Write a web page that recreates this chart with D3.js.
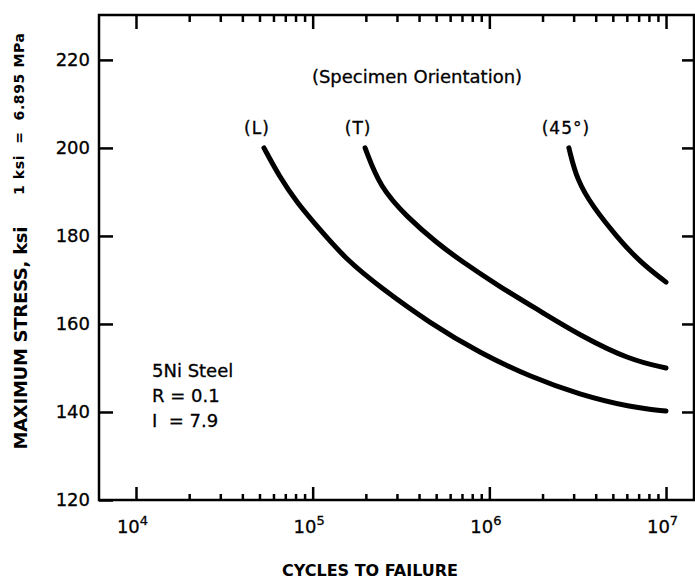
<!DOCTYPE html>
<html>
<head>
<meta charset="utf-8">
<script src="https://cdn.jsdelivr.net/npm/d3@7"></script>
<style>
  body { margin: 0; background: #fff; }
  svg { display: block; }
  .axis path, .axis line { stroke: #000; stroke-width: 2.5; }
  .axis text { font-family: "DejaVu Sans", sans-serif; font-size: 18px; fill: #000; stroke: #000; stroke-width: 0.3; }
  .lbl { font-family: "DejaVu Sans", sans-serif; fill: #000; }
  .thick { stroke: #000; stroke-width: 0.3; }
  .curve { fill: none; stroke: #000; stroke-width: 5; stroke-linecap: round; }
</style>
</head>
<body>
<div id="chart"></div>
<script>
// cycles to failure / max stress (ksi)
var cyclesL = [5.3e4, 6.5e4, 8.1e4, 1.1e5, 1.56e5, 2.4e5, 4.6e5, 8.85e5, 1.7e6, 3.26e6, 6.25e6, 1e7];
var stressL = [200, 193.4, 187.7, 181.4, 174.5, 168.4, 160.2, 153.4, 148.0, 143.9, 141.1, 140.2];

var cyclesT = [1.98e5, 2.4e5, 3.42e5, 5.05e5, 6.82e5, 1.15e6, 2.0e6, 3.26e6, 6.25e6, 1e7];
var stressT = [200, 191.1, 184.3, 178.4, 174.5, 168.4, 162.6, 157.4, 151.8, 150.0];

var cycles45 = [2.82e6, 3.13e6, 3.86e6, 5.27e6, 7.11e6, 1e7];
var stress45 = [200, 192.7, 186.6, 179.8, 174.1, 169.5];

var seriesNames = ["(L)", "(T)", "(45°)"];
var yTicks = [120, 140, 160, 180, 200, 220];
var xMajor = [1e4, 1e5, 1e6, 1e7];
var notes = ["5Ni Steel", "R = 0.1", "I  = 7.9"];

var width = 695, height = 585;
var margin = {left: 99, top: 15, right: 1, bottom: 85};

var svg = d3.select("#chart").append("svg")
    .attr("width", width)
    .attr("height", height);

var x = d3.scaleLog()
    .domain([6175, 1.44e7])
    .range([margin.left, width - margin.right]);
var y = d3.scaleLinear()
    .domain([120, 230.2])
    .range([height - margin.bottom, margin.top]);

// minor ticks 2..9 in each decade from 10^4 to 10^7
var xMinor = [];
for (var d = 1e4; d < 1e7; d *= 10) {
    for (var k = 2; k <= 9; k++) xMinor.push(d * k);
}

var bottom = height - margin.bottom;

// frame
svg.append("rect")
    .attr("x", margin.left)
    .attr("y", margin.top)
    .attr("width", width - margin.right - margin.left)
    .attr("height", bottom - margin.top)
    .attr("fill", "none")
    .attr("stroke", "#000")
    .attr("stroke-width", 2.5);

// bottom axis: major + minor ticks pointing in
svg.append("g").attr("class", "axis")
    .attr("transform", "translate(0," + bottom + ")")
    .call(d3.axisBottom(x).tickValues(xMinor).tickSizeInner(-6).tickSizeOuter(0).tickFormat(""));
var xb = svg.append("g").attr("class", "axis")
    .attr("transform", "translate(0," + bottom + ")")
    .call(d3.axisBottom(x).tickValues(xMajor).tickSizeInner(-13).tickSizeOuter(0).tickPadding(20).tickFormat(""));
xb.selectAll(".tick text").attr("dx", -4).each(function(d) {
    var t = d3.select(this);
    t.append("tspan").text("10");
    t.append("tspan").attr("dy", -8).attr("font-size", 13).text(Math.round(Math.log10(d)));
});

// top axis
svg.append("g").attr("class", "axis")
    .attr("transform", "translate(0," + margin.top + ")")
    .call(d3.axisTop(x).tickValues(xMinor).tickSizeInner(-7).tickSizeOuter(0).tickFormat(""));
svg.append("g").attr("class", "axis")
    .attr("transform", "translate(0," + margin.top + ")")
    .call(d3.axisTop(x).tickValues(xMajor).tickSizeInner(-14).tickSizeOuter(0).tickFormat(""));

// left / right axes
svg.append("g").attr("class", "axis")
    .attr("transform", "translate(" + margin.left + ",0)")
    .call(d3.axisLeft(y).tickValues(yTicks).tickSizeInner(-14).tickSizeOuter(0).tickPadding(9).tickFormat(d3.format("d")));
svg.append("g").attr("class", "axis")
    .attr("transform", "translate(" + (width - margin.right) + ",0)")
    .call(d3.axisRight(y).tickValues(yTicks.slice(1)).tickSizeInner(-12).tickSizeOuter(0).tickFormat(""));
svg.selectAll(".axis .domain").remove();

// curves
var line = d3.line()
    .x(function(d) { return x(d[0]); })
    .y(function(d) { return y(d[1]); })
    .curve(d3.curveBasis);

var series = [d3.zip(cyclesL, stressL), d3.zip(cyclesT, stressT), d3.zip(cycles45, stress45)];
svg.selectAll(".curve")
    .data(series)
    .enter().append("path")
    .attr("class", "curve")
    .attr("d", line);

// series labels above each curve start
svg.selectAll(".slbl")
    .data(series)
    .enter().append("text")
    .attr("class", "lbl thick")
    .attr("x", function(d, i) { return x(d[0][0]) - (i == 2 ? 3 : 7); })
    .attr("y", 134)
    .attr("text-anchor", "middle")
    .attr("font-size", 17)
    .attr("letter-spacing", 1)
    .text(function(d, i) { return seriesNames[i]; });

svg.append("text")
    .attr("class", "lbl thick")
    .attr("x", 417)
    .attr("y", 83)
    .attr("text-anchor", "middle")
    .attr("font-size", 18)
    .text("(Specimen Orientation)");

svg.selectAll(".note")
    .data(notes)
    .enter().append("text")
    .attr("class", "lbl thick")
    .attr("x", 152)
    .attr("y", function(d, i) { return 377 + i * 25; })
    .attr("font-size", 18)
    .style("white-space", "pre")
    .text(function(d) { return d; });

// axis titles
svg.append("text")
    .attr("class", "lbl")
    .attr("x", 370)
    .attr("y", 576)
    .attr("text-anchor", "middle")
    .attr("font-size", 16)
    .attr("font-weight", "bold")
    .text("CYCLES TO FAILURE");

svg.append("text")
    .attr("class", "lbl")
    .attr("transform", "translate(27,338) rotate(-90)")
    .attr("text-anchor", "middle")
    .attr("font-size", 18)
    .attr("font-weight", "bold")
    .attr("textLength", 223)
    .attr("lengthAdjust", "spacing")
    .text("MAXIMUM STRESS, ksi");

svg.append("text")
    .attr("class", "lbl")
    .attr("transform", "translate(24,114) rotate(-90)")
    .attr("text-anchor", "middle")
    .attr("font-size", 14)
    .attr("font-weight", "bold")
    .attr("textLength", 162)
    .attr("lengthAdjust", "spacing")
    .style("white-space", "pre")
    .text("1 ksi  =  6.895 MPa");
</script>
</body>
</html>
